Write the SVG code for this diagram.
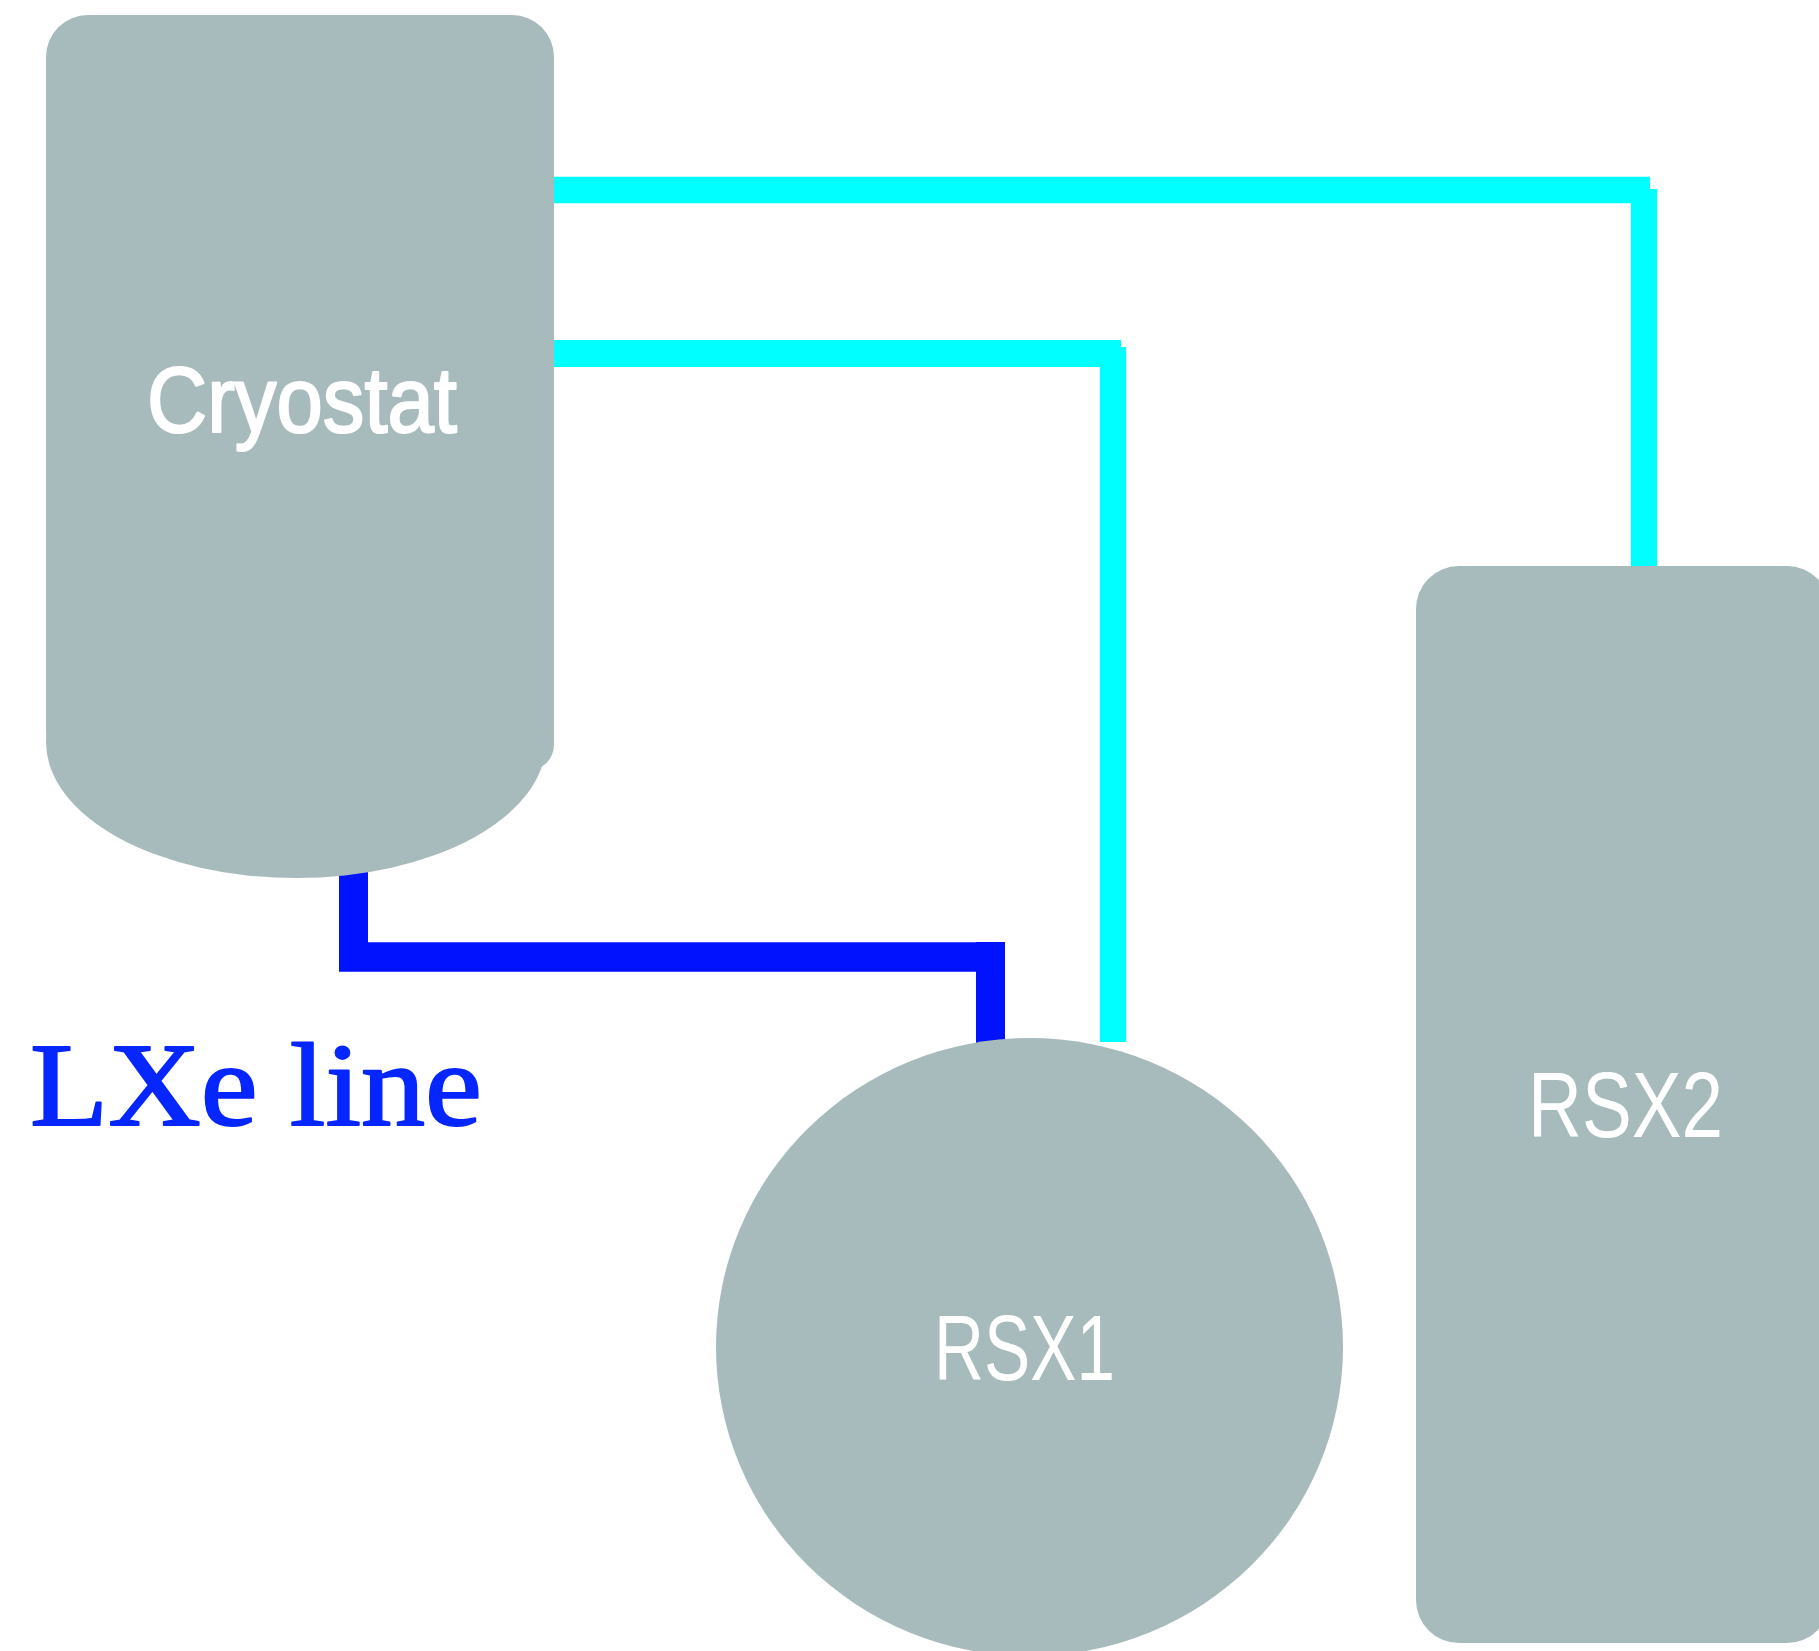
<svg xmlns="http://www.w3.org/2000/svg" width="1819" height="1651" viewBox="0 0 1819 1651">
  <style>
    .node { fill: #a7bbbc; }
    .lbl { fill: #ffffff; font-family: "Liberation Sans", Arial, sans-serif; font-size: 92px; }
    .bold-lbl { stroke: #ffffff; stroke-width: 2.2px; stroke-linejoin: round; }
    .cyan { stroke: #00ffff; fill: none; stroke-linecap: butt; }
    .blue { stroke: #0012ff; fill: none; stroke-linecap: butt; }
    .lxe { fill: #0526ff; stroke: #0526ff; stroke-width: 2px; stroke-linejoin: round; font-family: "Liberation Serif", "Times New Roman", serif; font-size: 119px; }
  </style>
  <rect x="0" y="0" width="1819" height="1651" fill="#ffffff"/>
  <g id="connectors">
    <line class="cyan" x1="554" y1="190" x2="1650" y2="190" stroke-width="26.6"/>
    <line class="cyan" x1="1644" y1="189" x2="1644" y2="570" stroke-width="26.3"/>
    <line class="cyan" x1="554" y1="353.5" x2="1121" y2="353.5" stroke-width="27"/>
    <line class="cyan" x1="1113" y1="347" x2="1113" y2="1042" stroke-width="26.3"/>
    <line class="blue" x1="353.5" y1="860" x2="353.5" y2="957" stroke-width="29"/>
    <line class="blue" x1="339" y1="957" x2="1005" y2="957" stroke-width="29.5"/>
    <line class="blue" x1="990.5" y1="942" x2="990.5" y2="1050" stroke-width="29"/>
  </g>
  <g id="cryostat">
    <path class="node" d="M46,57 A42,42 0 0 1 88,15 H512 A42,42 0 0 1 554,57 V745 A25,25 0 0 1 529,770 H86 A40,40 0 0 1 46,730 Z"/>
    <ellipse class="node" cx="296" cy="742" rx="250" ry="136"/>
    <text class="lbl bold-lbl" x="147" y="432" textLength="310" lengthAdjust="spacingAndGlyphs">Cryostat</text>
  </g>
  <g id="rsx1">
    <ellipse class="node" cx="1029.5" cy="1347" rx="313.5" ry="309"/>
    <text class="lbl" x="934" y="1380" textLength="181" lengthAdjust="spacingAndGlyphs">RSX1</text>
  </g>
  <g id="rsx2">
    <rect class="node" x="1416" y="566" width="414" height="1077" rx="43" ry="43"/>
    <text class="lbl" x="1528" y="1137" textLength="195" lengthAdjust="spacingAndGlyphs">RSX2</text>
  </g>
  <g id="lxe-label">
    <text class="lxe" x="30" y="1125" textLength="452" lengthAdjust="spacingAndGlyphs">LXe line</text>
  </g>
</svg>
